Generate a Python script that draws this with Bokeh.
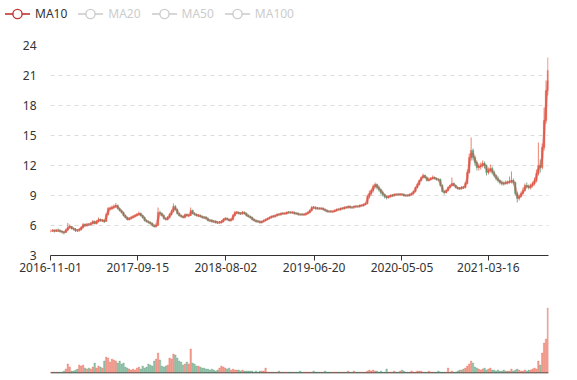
import numpy as np
import pandas as pd
from bokeh.plotting import figure
from bokeh.layouts import column
from bokeh.models import (ColumnDataSource, Range1d, FixedTicker, DatetimeTickFormatter,
                          Span, Div)
from bokeh.embed import file_html
from bokeh.resources import INLINE

# ---------------- data (weekly candles) ----------------
start_date = "2016-11-01"
end_date = "2021-10-21"
tick_dates = ["2016-11-01", "2017-09-15", "2018-08-02", "2019-06-20", "2020-05-05", "2021-03-16"]
y_ticks = [3, 6, 9, 12, 15, 18, 21, 24]
legend_names = ["MA10", "MA20", "MA50", "MA100"]
legend_active = [True, False, False, False]

opens = [
    5.4, 5.45, 5.5, 5.45, 5.5, 5.5, 5.4, 5.35, 5.3, 5.55,
    5.8, 5.9, 5.7, 5.65, 5.5, 5.55, 5.6, 5.8, 6.1, 6.0,
    6.1, 6.1, 6.2, 6.4, 6.2, 6.4, 6.6, 6.45, 6.5, 6.4,
    7.1, 7.65, 7.7, 7.8, 7.9, 8.0, 7.7, 7.5, 7.3, 7.0,
    6.8, 6.6, 6.7, 6.8, 6.9, 7.0, 7.1, 7.2, 7.0, 6.8,
    6.5, 6.4, 6.3, 6.2, 6.0, 5.9, 6.0, 7.3, 7.2, 7.0,
    6.7, 6.6, 6.8, 7.1, 7.4, 7.9, 7.6, 7.2, 7.0, 6.9,
    6.8, 7.1, 6.95, 7.0, 7.5, 7.2, 7.1, 6.95, 7.0, 6.9,
    6.8, 6.85, 6.7, 6.5, 6.55, 6.4, 6.45, 6.3, 6.25, 6.3,
    6.4, 6.6, 6.7, 6.6, 6.5, 6.6, 7.0, 7.25, 7.3, 7.2,
    7.2, 7.3, 7.2, 7.0, 6.9, 6.8, 6.6, 6.5, 6.45, 6.4,
    6.3, 6.4, 6.5, 6.6, 6.7, 6.8, 6.95, 6.9, 7.0, 7.15,
    7.1, 7.25, 7.15, 7.2, 7.3, 7.35, 7.25, 7.3, 7.25, 7.2,
    7.1, 7.15, 7.05, 7.1, 7.2, 7.3, 7.5, 7.8, 7.8, 7.7,
    7.75, 7.65, 7.7, 7.6, 7.5, 7.4, 7.45, 7.35, 7.4, 7.5,
    7.6, 7.6, 7.75, 7.7, 7.85, 7.8, 7.9, 7.8, 7.85, 7.95,
    7.9, 7.9, 8.05, 8.0, 8.1, 8.2, 8.9, 9.2, 9.5, 9.9,
    10.1, 9.8, 9.6, 9.3, 9.1, 8.9, 8.8, 8.9, 9.05, 9.0,
    9.1, 9.15, 9.05, 9.15, 9.1, 9.0, 9.05, 9.0, 9.1, 9.2,
    9.4, 9.8, 10.1, 10.5, 10.8, 11.0, 10.8, 10.5, 10.6, 10.7,
    10.8, 10.7, 10.6, 10.6, 10.0, 9.4, 9.3, 9.5, 9.8, 10.0,
    10.2, 10.0, 9.8, 9.75, 9.7, 9.85, 9.8, 10.2, 11.3, 12.8,
    13.5, 12.8, 12.3, 11.8, 11.9, 12.0, 12.2, 12.0, 11.3, 11.5,
    11.7, 11.3, 11.0, 10.7, 10.5, 10.3, 10.25, 10.2, 10.35, 10.3,
    10.4, 10.5, 10.3, 9.2, 8.7, 8.9, 9.2, 9.5, 10.0, 9.9,
    9.8, 10.0, 10.2, 10.5, 11.2, 12.0, 11.8, 13.8, 16.5, 19.5,
]
closes = [
    5.45, 5.5, 5.45, 5.5, 5.5, 5.4, 5.35, 5.3, 5.55, 5.8,
    5.9, 5.7, 5.65, 5.5, 5.5, 5.6, 5.8, 6.1, 6.0, 6.1,
    6.1, 6.2, 6.4, 6.2, 6.4, 6.6, 6.5, 6.5, 6.4, 7.1,
    7.7, 7.7, 7.8, 7.9, 8.0, 7.7, 7.5, 7.3, 7.0, 6.8,
    6.6, 6.7, 6.8, 6.9, 7.0, 7.1, 7.2, 7.0, 6.8, 6.5,
    6.4, 6.3, 6.2, 6.0, 5.9, 6.0, 7.3, 7.2, 7.0, 6.7,
    6.6, 6.8, 7.1, 7.4, 7.9, 7.6, 7.2, 7.0, 6.9, 6.8,
    7.1, 7.0, 7.0, 7.5, 7.2, 7.1, 7.0, 7.0, 6.9, 6.8,
    6.8, 6.7, 6.5, 6.5, 6.4, 6.4, 6.3, 6.3, 6.3, 6.4,
    6.6, 6.7, 6.6, 6.5, 6.6, 7.0, 7.3, 7.3, 7.2, 7.2,
    7.3, 7.2, 7.0, 6.9, 6.8, 6.6, 6.5, 6.4, 6.4, 6.3,
    6.4, 6.5, 6.6, 6.7, 6.8, 6.9, 6.9, 7.0, 7.1, 7.1,
    7.2, 7.2, 7.2, 7.3, 7.3, 7.3, 7.3, 7.2, 7.2, 7.1,
    7.1, 7.1, 7.1, 7.2, 7.3, 7.5, 7.8, 7.8, 7.7, 7.7,
    7.7, 7.7, 7.6, 7.5, 7.4, 7.4, 7.4, 7.4, 7.5, 7.6,
    7.6, 7.7, 7.7, 7.8, 7.8, 7.9, 7.8, 7.8, 7.9, 7.9,
    7.9, 8.0, 8.0, 8.1, 8.2, 8.9, 9.2, 9.5, 9.9, 10.1,
    9.8, 9.6, 9.3, 9.1, 8.9, 8.8, 8.9, 9.0, 9.0, 9.1,
    9.1, 9.1, 9.1, 9.1, 9.0, 9.0, 9.0, 9.1, 9.2, 9.4,
    9.8, 10.1, 10.5, 10.8, 11.0, 10.8, 10.5, 10.6, 10.7, 10.8,
    10.7, 10.6, 10.6, 10.0, 9.4, 9.3, 9.5, 9.8, 10.0, 10.2,
    10.0, 9.8, 9.7, 9.7, 9.8, 9.8, 10.2, 11.3, 12.8, 13.5,
    12.8, 12.3, 11.8, 11.9, 12.0, 12.2, 12.0, 11.3, 11.5, 11.7,
    11.3, 11.0, 10.7, 10.5, 10.3, 10.2, 10.2, 10.3, 10.3, 10.4,
    10.5, 10.3, 9.2, 8.7, 8.9, 9.2, 9.5, 10.0, 9.9, 9.8,
    10.0, 10.2, 10.5, 11.2, 12.0, 11.8, 13.8, 16.5, 19.5, 21.5,
]
highs = [
    5.6, 5.65, 5.6, 5.65, 5.7, 5.6, 5.5, 5.45, 5.7, 6.25,
    6.1, 5.95, 5.8, 5.75, 5.65, 5.75, 5.95, 6.25, 6.2, 6.25,
    6.25, 6.35, 6.55, 6.5, 6.55, 6.8, 6.7, 6.65, 6.6, 7.3,
    7.85, 7.9, 8.0, 8.1, 8.25, 8.1, 7.8, 7.6, 7.4, 7.1,
    6.9, 6.85, 6.95, 7.05, 7.15, 7.25, 7.4, 7.3, 7.1, 6.9,
    6.6, 6.5, 6.4, 6.3, 6.1, 6.2, 7.8, 7.5, 7.3, 7.1,
    6.8, 6.95, 7.25, 7.6, 8.2, 8.05, 7.7, 7.3, 7.1, 7.0,
    7.2, 7.2, 7.15, 7.8, 7.6, 7.3, 7.2, 7.15, 7.1, 7.0,
    6.95, 6.9, 6.8, 6.65, 6.6, 6.55, 6.5, 6.45, 6.45, 6.55,
    6.75, 6.85, 6.8, 6.7, 6.75, 7.15, 7.45, 7.45, 7.4, 7.35,
    7.45, 7.4, 7.3, 7.1, 7.0, 6.9, 6.7, 6.6, 6.55, 6.5,
    6.5, 6.6, 6.7, 6.8, 6.9, 7.0, 7.05, 7.1, 7.2, 7.2,
    7.3, 7.3, 7.3, 7.4, 7.45, 7.4, 7.4, 7.4, 7.3, 7.3,
    7.2, 7.2, 7.2, 7.3, 7.4, 7.6, 7.95, 7.95, 7.9, 7.85,
    7.8, 7.8, 7.8, 7.7, 7.6, 7.5, 7.5, 7.5, 7.6, 7.7,
    7.7, 7.8, 7.8, 7.9, 7.9, 8.0, 8.0, 7.9, 8.0, 8.0,
    8.0, 8.1, 8.1, 8.2, 8.3, 9.1, 9.5, 9.7, 10.1, 10.3,
    10.2, 10.0, 9.7, 9.5, 9.2, 9.0, 9.0, 9.1, 9.15, 9.2,
    9.2, 9.2, 9.25, 9.2, 9.2, 9.1, 9.1, 9.2, 9.3, 9.5,
    9.9, 10.3, 10.6, 10.9, 11.2, 11.1, 10.9, 10.8, 10.85, 11.0,
    10.9, 10.8, 10.7, 10.7, 10.1, 9.5, 9.6, 9.9, 10.1, 10.8,
    10.3, 10.1, 9.9, 9.85, 9.95, 9.95, 10.4, 11.6, 13.2, 14.8,
    13.7, 13.0, 12.5, 12.2, 12.3, 12.5, 12.4, 12.1, 11.8, 12.1,
    11.9, 11.5, 11.1, 10.9, 10.6, 10.5, 10.4, 10.5, 10.5, 10.9,
    11.4, 10.7, 10.4, 9.4, 9.1, 9.4, 9.8, 10.2, 10.3, 10.1,
    10.2, 10.4, 10.8, 11.6, 14.3, 12.6, 14.2, 17.8, 20.5, 22.8,
]
lows = [
    5.3, 5.35, 5.3, 5.35, 5.35, 5.3, 5.2, 5.1, 5.25, 5.45,
    5.7, 5.6, 5.5, 5.35, 5.35, 5.4, 5.5, 5.7, 5.85, 5.9,
    5.95, 6.0, 6.1, 6.1, 6.1, 6.3, 6.4, 6.35, 6.25, 6.35,
    7.0, 7.5, 7.55, 7.65, 7.75, 7.6, 7.4, 7.2, 6.9, 6.7,
    6.5, 6.5, 6.6, 6.7, 6.8, 6.9, 7.0, 6.9, 6.7, 6.4,
    6.3, 6.2, 6.1, 5.9, 5.8, 5.8, 6.0, 7.0, 6.9, 6.6,
    6.5, 6.5, 6.7, 7.0, 7.3, 7.5, 7.1, 6.9, 6.8, 6.7,
    6.7, 6.9, 6.85, 6.95, 7.1, 7.0, 6.9, 6.85, 6.8, 6.7,
    6.65, 6.6, 6.4, 6.35, 6.3, 6.25, 6.2, 6.15, 6.2, 6.2,
    6.3, 6.5, 6.5, 6.4, 6.4, 6.5, 6.9, 7.15, 7.1, 7.05,
    7.1, 7.1, 6.9, 6.8, 6.7, 6.5, 6.4, 6.3, 6.3, 6.2,
    6.2, 6.3, 6.4, 6.5, 6.6, 6.7, 6.8, 6.8, 6.9, 7.0,
    7.0, 7.1, 7.1, 7.1, 7.2, 7.2, 7.2, 7.1, 7.1, 7.0,
    7.0, 7.0, 7.0, 7.0, 7.1, 7.2, 7.4, 7.65, 7.6, 7.6,
    7.6, 7.6, 7.5, 7.4, 7.3, 7.3, 7.3, 7.3, 7.35, 7.4,
    7.5, 7.5, 7.6, 7.6, 7.7, 7.7, 7.7, 7.7, 7.7, 7.8,
    7.8, 7.8, 7.9, 7.9, 8.0, 8.1, 8.7, 9.0, 9.3, 9.7,
    9.6, 9.4, 9.1, 8.9, 8.7, 8.6, 8.7, 8.8, 8.85, 8.9,
    9.0, 9.0, 9.0, 9.0, 8.9, 8.9, 8.9, 8.9, 9.0, 9.1,
    9.3, 9.7, 10.0, 10.4, 10.7, 10.7, 10.4, 10.4, 10.5, 10.6,
    10.6, 10.5, 10.4, 9.9, 9.3, 9.1, 9.2, 9.4, 9.7, 9.9,
    9.9, 9.7, 9.6, 9.55, 9.6, 9.65, 9.7, 10.1, 11.2, 12.5,
    12.5, 12.0, 11.5, 11.5, 11.6, 11.8, 11.7, 11.0, 11.1, 11.3,
    11.1, 10.8, 10.5, 10.3, 10.1, 10.0, 10.0, 10.1, 10.1, 10.2,
    10.2, 10.1, 9.0, 8.3, 8.5, 8.8, 9.1, 9.4, 9.7, 9.6,
    9.6, 9.8, 10.0, 10.3, 11.0, 11.3, 11.6, 13.5, 16.2, 19.0,
]
volumes = [
    1, 1, 1, 1, 1, 1, 1, 2, 4, 9,
    6, 2, 2, 3, 4, 8, 7, 8, 5, 4,
    5, 4, 6, 10, 5, 7, 6, 5, 12, 16,
    15, 11, 14, 13, 12, 10, 12, 9, 10, 6,
    5, 4, 3, 4, 3, 5, 6, 4, 7, 5,
    6, 9, 8, 7, 12, 14, 20, 13, 7, 6,
    7, 8, 15, 14, 19, 18, 15, 12, 11, 8,
    9, 11, 9, 24, 10, 9, 7, 7, 6, 5,
    5, 4, 4, 3, 4, 3, 2, 3, 5, 7,
    6, 5, 4, 5, 3, 4, 3, 3, 3, 2,
    3, 2, 2, 2, 2, 2, 1, 2, 1, 2,
    2, 2, 5, 1, 1, 1, 1, 1, 1, 2,
    1, 1, 1, 1, 1, 1, 1, 1, 1, 1,
    2, 1, 1, 1, 1, 1, 1, 2, 1, 1,
    1, 1, 1, 2, 1, 1, 1, 1, 1, 1,
    1, 1, 1, 1, 1, 2, 1, 1, 2, 1,
    1, 1, 1, 1, 1, 2, 3, 2, 3, 2,
    2, 1, 2, 1, 1, 4, 1, 1, 1, 2,
    1, 1, 2, 3, 2, 1, 1, 1, 2, 1,
    1, 2, 2, 2, 1, 1, 1, 2, 1, 1,
    1, 1, 2, 1, 1, 1, 1, 5, 1, 2,
    1, 1, 2, 3, 3, 4, 5, 7, 9, 12,
    10, 6, 5, 4, 3, 4, 5, 3, 4, 5,
    3, 3, 2, 3, 2, 2, 3, 2, 2, 2,
    4, 2, 3, 4, 3, 2, 2, 3, 2, 3,
    3, 4, 5, 4, 12, 8, 20, 30, 34, 65,
]

# ---------------- derived series ----------------
n = min(len(opens), len(closes), len(highs), len(lows), len(volumes))
dates = pd.date_range(start_date, periods=n, freq="7D")
o = np.array(opens[:n]); c = np.array(closes[:n])
h = np.array(highs[:n]); l = np.array(lows[:n]); v = np.array(volumes[:n], dtype=float)
ma10 = pd.Series(c).rolling(2).mean().to_numpy()   # 2 weeks ~ 10 trading days

UP, DOWN = "#e8604c", "#549c77"
colors = [UP if cc > oo else DOWN for oo, cc in zip(o, c)]
src = ColumnDataSource(dict(x=dates, o=o, c=c, h=h, l=l, v=v, ma=ma10, col=colors))

FONT = "Noto Sans"
DAY = 86400000
W = 577
x_range = Range1d(start=pd.Timestamp(start_date).to_pydatetime(),
                  end=pd.Timestamp(end_date).to_pydatetime())

# ---------------- legend strip (HTML, real text) ----------------
parts = []
for name, active in zip(legend_names, legend_active):
    col = "#c23531" if active else "#cccccc"
    txt = "#333333" if active else "#cccccc"
    icon = ('<svg width="25" height="14" style="display:block">'
            f'<line x1="0" y1="7" x2="25" y2="7" stroke="{col}" stroke-width="1.6"/>'
            f'<circle cx="12.5" cy="7" r="4.6" fill="#ffffff" stroke="{col}" stroke-width="1.4"/>'
            '</svg>')
    parts.append('<span style="display:inline-flex;align-items:center;margin-right:11px">'
                 f'{icon}<span style="margin-left:5px;color:{txt}">{name}</span></span>')
legend_html = ('<div style="display:flex;align-items:center;height:28px;padding-left:5px;'
               f'font-family:\'{FONT}\';font-size:12px;line-height:14px;white-space:nowrap">'
               + "".join(parts) + '</div>')
leg = Div(text=legend_html, width=W, height=30, margin=0)

# ---------------- price figure ----------------
p = figure(width=W, height=255, x_axis_type="datetime", x_range=x_range,
           y_range=Range1d(3, 24), output_backend="svg", toolbar_location=None,
           min_border_left=50, min_border_right=29, min_border_top=15, min_border_bottom=30)
p.outline_line_color = None
p.background_fill_color = "white"
p.border_fill_color = "white"

p.segment(x0="x", y0="h", x1="x", y1="l", source=src, line_color="col",
          line_width=1, line_alpha=0.8)
p.vbar(x="x", width=5.5 * DAY, top="o", bottom="c", source=src, fill_color="col",
       line_color="col", line_width=0.5, fill_alpha=0.8, line_alpha=0.8)
p.line(x="x", y="ma", source=src, line_color="#d0453a", line_width=2.4, line_alpha=0.45)

p.yaxis.ticker = FixedTicker(ticks=y_ticks)
p.yaxis.axis_line_color = None
p.yaxis.major_tick_line_color = None
p.yaxis.minor_tick_line_color = None
p.yaxis.major_label_standoff = 8
p.yaxis.major_label_text_font = FONT
p.yaxis.major_label_text_font_size = "12px"
p.yaxis.major_label_text_color = "#333333"

p.ygrid.ticker = FixedTicker(ticks=y_ticks)
p.ygrid.grid_line_color = "#dcdcdc"
p.ygrid.grid_line_dash = "4 4"
p.xgrid.grid_line_color = None

tick_ms = [pd.Timestamp(d).value // 10**6 for d in tick_dates]
p.xaxis.ticker = FixedTicker(ticks=tick_ms)
fmt = "%Y-%m-%d"
p.xaxis.formatter = DatetimeTickFormatter(milliseconds=fmt, seconds=fmt, minsec=fmt, minutes=fmt,
                                          hourmin=fmt, hours=fmt, days=fmt, months=fmt, years=fmt)
p.xaxis.axis_line_color = "#333333"
p.xaxis.major_tick_line_color = "#333333"
p.xaxis.major_tick_out = 5
p.xaxis.major_tick_in = 0
p.xaxis.minor_tick_line_color = None
p.xaxis.major_label_standoff = 2
p.xaxis.major_label_text_font = FONT
p.xaxis.major_label_text_font_size = "12px"
p.xaxis.major_label_text_color = "#333333"

# ---------------- volume figure ----------------
vmax = float(v.max())
ppu = 65.0 / vmax
frame_h = 73
y0 = -0.5 / ppu
vol = figure(width=W, height=95, x_axis_type="datetime", x_range=x_range,
             y_range=Range1d(y0, y0 + frame_h / ppu), output_backend="svg",
             toolbar_location=None, x_axis_location=None, y_axis_location=None,
             min_border_left=50, min_border_right=29, min_border_top=15, min_border_bottom=7)
vol.outline_line_color = None
vol.grid.grid_line_color = None
vol.background_fill_color = "white"
vol.border_fill_color = "white"
vol.vbar(x="x", width=5.5 * DAY, top="v", bottom=0, source=src, fill_color="col",
         line_color="col", line_width=0.5, fill_alpha=0.6, line_alpha=0.6)
vol.add_layout(Span(location=0, dimension="width", line_color="#333333", line_width=1))

layout = column(leg, p, vol, spacing=0)
open("out.html", "w").write(file_html(layout, INLINE))
